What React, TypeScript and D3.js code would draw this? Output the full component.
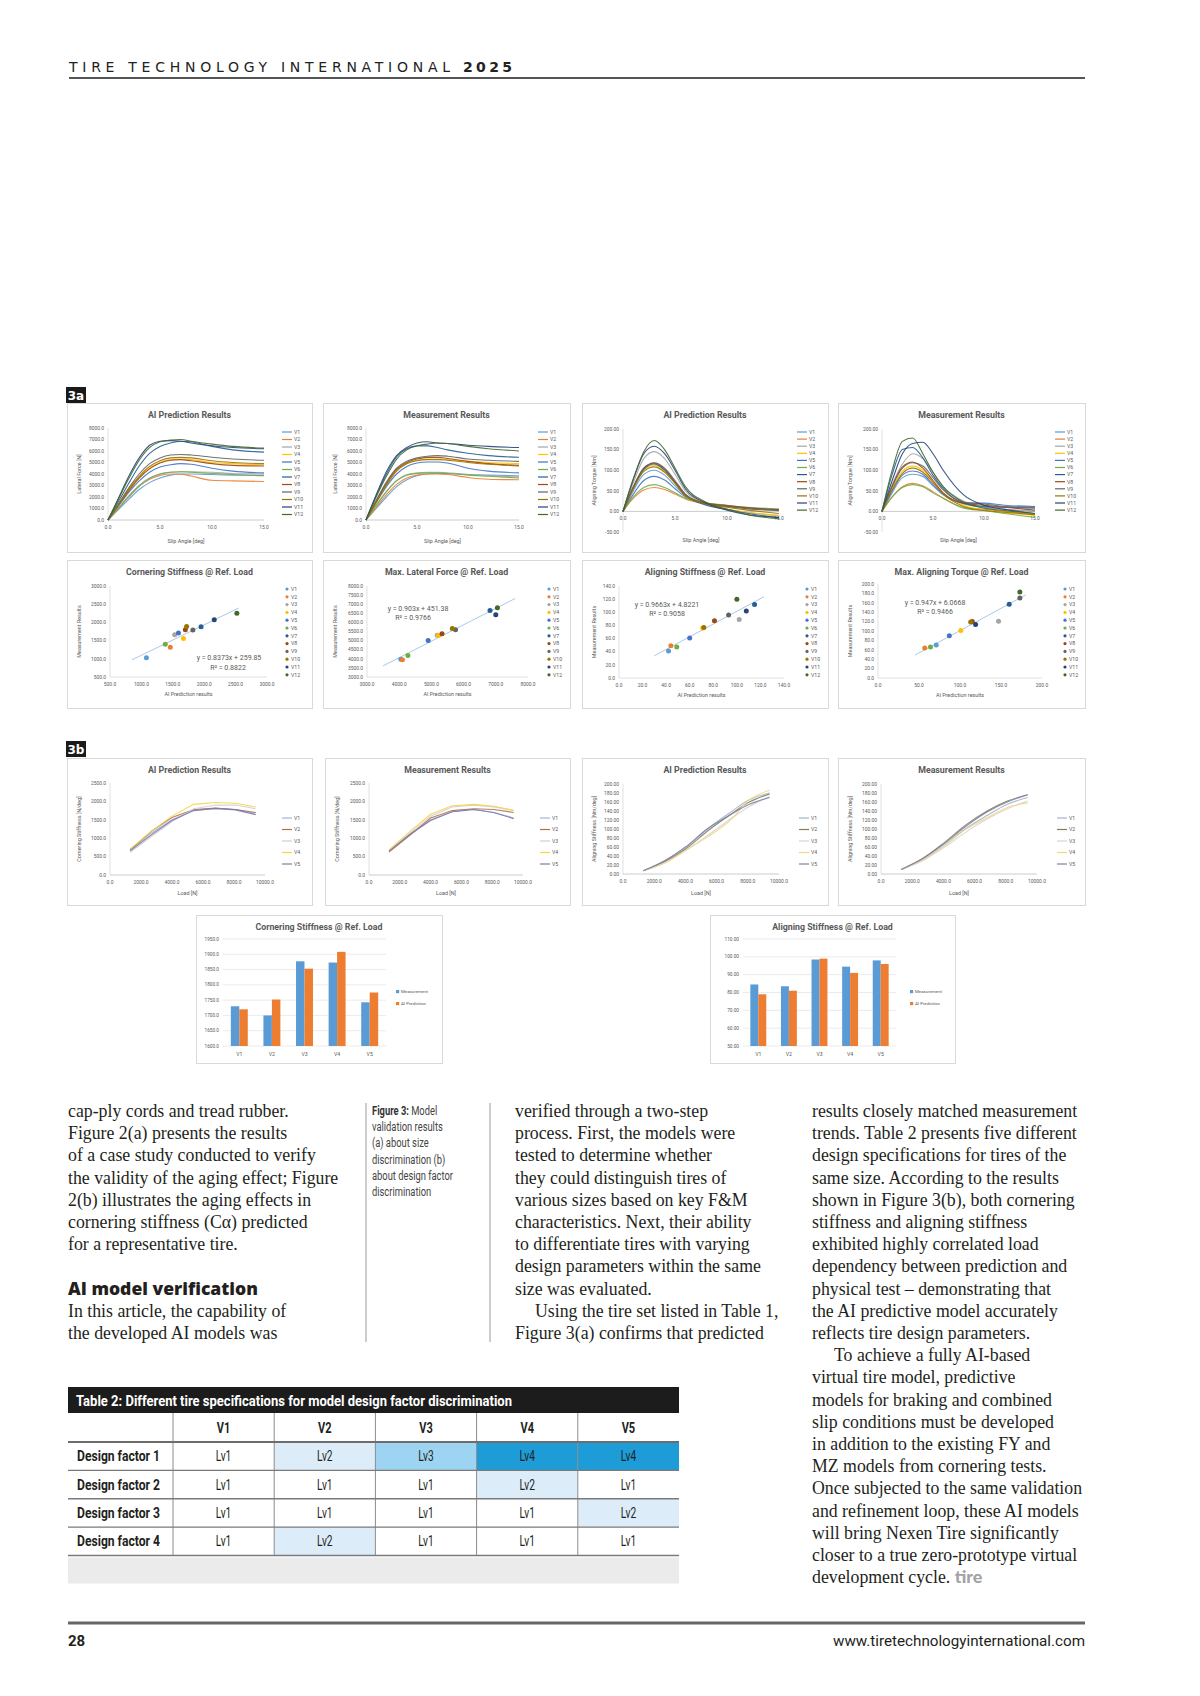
import React from "react";
import * as d3 from "d3";

// ---------------- DATA ----------------
const names12 = ["V1", "V2", "V3", "V4", "V5", "V6", "V7", "V8", "V9", "V10", "V11", "V12"];
const names5 = ["V1", "V2", "V3", "V4", "V5"];
const excel12 = ["#5B9BD5", "#ED7D31", "#A5A5A5", "#FFC000", "#4472C4", "#70AD47", "#255E91", "#9E480E", "#636363", "#997300", "#264478", "#43682B"];
const load5ColorsA = ["#9fb4d6", "#b0704a", "#cfcfcf", "#f5d34a", "#7c78b0"];
const load5ColorsB = ["#a3b2c9", "#7d7f5d", "#d4d4d4", "#f2d680", "#7f7faa"];

// Fig 3a – lateral force vs slip angle
const slipFy = [0, 1, 2, 3, 4, 5, 6, 7, 8, 10, 12, 15];
const fyAI = [
  [0, 900, 1800, 2650, 3250, 3650, 3900, 4000, 4000, 3950, 3900, 3880],
  [0, 1000, 2000, 2950, 3550, 3880, 4000, 3980, 3820, 3450, 3400, 3350],
  [0, 1000, 2000, 2900, 3600, 4000, 4150, 4200, 4200, 4150, 4050, 4000],
  [0, 1300, 2600, 3700, 4500, 5000, 5250, 5300, 5250, 5000, 4900, 4800],
  [0, 1200, 2400, 3400, 4150, 4600, 4800, 4900, 4850, 4500, 4250, 4100],
  [0, 1050, 2100, 3000, 3650, 4000, 4150, 4200, 4150, 4050, 3950, 3850],
  [0, 1600, 3200, 4700, 5800, 6400, 6700, 6850, 6800, 6400, 6100, 5900],
  [0, 1300, 2550, 3650, 4450, 4950, 5200, 5250, 5150, 4900, 4750, 4700],
  [0, 1400, 2800, 4000, 4900, 5400, 5650, 5700, 5650, 5450, 5300, 5200],
  [0, 1350, 2700, 3800, 4650, 5150, 5400, 5450, 5400, 5150, 5000, 4900],
  [0, 1900, 3800, 5400, 6500, 6850, 6900, 6850, 6700, 6450, 6300, 6200],
  [0, 1800, 3600, 5200, 6300, 6800, 6950, 7000, 6850, 6600, 6400, 6250],
];
const fyMeas = [
  [0, 1000, 2000, 2900, 3500, 3850, 4000, 4050, 4050, 3950, 3900, 3850],
  [0, 1100, 2200, 3100, 3650, 3900, 4000, 4000, 3950, 3700, 3550, 3500],
  [0, 1300, 2500, 3450, 3950, 4100, 4150, 4150, 4100, 3950, 3850, 3750],
  [0, 1600, 3100, 4300, 4950, 5200, 5300, 5300, 5250, 5100, 5000, 4900],
  [0, 1500, 2900, 4000, 4650, 4950, 5050, 5050, 4950, 4500, 4250, 4100],
  [0, 1250, 2450, 3400, 3900, 4050, 4100, 4100, 4050, 3900, 3800, 3650],
  [0, 2100, 4000, 5500, 6200, 6450, 6450, 6300, 6100, 5800, 5600, 5450],
  [0, 1650, 3200, 4400, 5000, 5300, 5450, 5450, 5350, 5100, 4900, 4750],
  [0, 1700, 3300, 4500, 5100, 5400, 5550, 5600, 5550, 5300, 5200, 5100],
  [0, 1550, 3050, 4250, 4900, 5150, 5250, 5250, 5200, 5000, 4850, 4700],
  [0, 2200, 4200, 5600, 6300, 6700, 6800, 6700, 6650, 6500, 6400, 6300],
  [0, 2000, 3800, 5300, 6100, 6450, 6600, 6700, 6650, 6400, 6200, 6000],
];

// Fig 3a – aligning torque vs slip angle
const slipMz = [0, 1, 2, 3, 4, 5, 6, 8, 10, 12, 15];
const mzAI = [
  [0, 50, 90, 100, 88, 62, 38, 20, 14, 8, 3],
  [0, 32, 52, 58, 53, 42, 30, 18, 12, 8, 4],
  [0, 70, 128, 145, 128, 90, 50, 18, 5, -3, -10],
  [0, 58, 100, 112, 98, 70, 40, 18, 6, -2, -10],
  [0, 42, 75, 85, 76, 55, 35, 18, 12, 8, 5],
  [0, 35, 58, 65, 58, 45, 32, 20, 15, 10, 6],
  [0, 58, 102, 115, 100, 70, 40, 15, 5, -5, -15],
  [0, 60, 105, 117, 103, 72, 40, 20, 14, 9, 4],
  [0, 60, 105, 118, 105, 75, 42, 18, 12, 6, 2],
  [0, 55, 97, 108, 95, 68, 38, 18, 10, 3, -5],
  [0, 78, 140, 158, 140, 100, 55, 20, 3, -8, -15],
  [0, 80, 145, 172, 150, 105, 60, 22, 5, -8, -18],
];
const mzMeas = [
  [0, 45, 82, 90, 85, 62, 40, 18, 10, 5, 0],
  [0, 35, 60, 68, 62, 48, 32, 10, 5, 0, -8],
  [0, 65, 115, 140, 128, 95, 60, 25, 10, 5, 0],
  [0, 55, 98, 110, 100, 72, 45, 15, 3, -3, -10],
  [0, 50, 88, 98, 90, 65, 42, 20, 20, 15, 12],
  [0, 35, 58, 65, 60, 45, 32, 8, 2, -5, -15],
  [0, 90, 150, 155, 130, 88, 55, 20, 12, 10, 8],
  [0, 62, 108, 120, 105, 75, 45, 20, 15, 10, 3],
  [0, 60, 105, 118, 110, 82, 52, 22, 18, 12, 10],
  [0, 52, 92, 105, 95, 70, 42, 12, 2, -2, -8],
  [0, 75, 140, 165, 168, 140, 100, 40, 15, 5, -5],
  [0, 100, 170, 178, 140, 95, 60, 22, 8, 2, -5],
];

// Fig 3a – scatter comparisons (V1..V12)
const csPred = [1080, 1460, 1530, 1670, 1590, 1380, 1950, 1700, 1820, 1720, 2160, 2520];
const csMeas = [1030, 1320, 1660, 1560, 1710, 1400, 1880, 1800, 1790, 1890, 2070, 2250];
const csFit = [0.8373, 259.85];
const csFitRange = [850, 2550];
const mfPred = [4050, 4100, 5180, 5220, 4900, 4270, 6820, 5330, 5750, 5650, 7000, 7050];
const mfMeas = [3980, 3950, 5300, 5280, 5000, 4180, 6650, 5380, 5590, 5660, 6420, 6800];
const mfFit = [0.903, 451.38];
const mfFitRange = [3500, 7600];
const asPred = [42, 44, 102, 71, 60, 49, 115, 81, 93, 72, 108, 100];
const asMeas = [41, 49, 89, 76, 61, 47, 112, 87, 96, 77, 102, 120];
const asFit = [0.9663, 4.8221];
const asFitRange = [30, 123];
const mtPred = [71, 57, 147, 101, 87, 64, 160, 115, 173, 113, 119, 173];
const mtMeas = [70, 64, 121, 101, 90, 66, 157, 120, 170, 119, 114, 183];
const mtFit = [0.947, 6.0668];
const mtFitRange = [45, 180];

// Fig 3b – load sweeps (V1..V5)
const loadPts = [1300, 2700, 4000, 5400, 6800, 8100, 9400];
const csLoadAI = [
  [700, 1150, 1500, 1760, 1800, 1780, 1680],
  [680, 1200, 1560, 1780, 1820, 1780, 1700],
  [620, 1050, 1450, 1800, 1900, 1900, 1800],
  [700, 1200, 1600, 1920, 1970, 1950, 1850],
  [660, 1100, 1480, 1750, 1810, 1770, 1640],
];
const csLoadMeas = [
  [640, 1100, 1500, 1720, 1780, 1700, 1550],
  [620, 1100, 1550, 1750, 1800, 1780, 1700],
  [660, 1150, 1600, 1850, 1900, 1850, 1750],
  [680, 1200, 1650, 1880, 1920, 1870, 1760],
  [650, 1120, 1480, 1720, 1780, 1700, 1530],
];
const asLoadAI = [
  [7, 30, 58, 100, 135, 165, 180],
  [7, 28, 55, 95, 130, 160, 178],
  [7, 25, 52, 85, 120, 150, 172],
  [7, 25, 52, 82, 117, 165, 186],
  [7, 30, 60, 100, 130, 155, 170],
];
const asLoadMeas = [
  [10, 32, 62, 100, 130, 155, 170],
  [10, 35, 68, 108, 140, 162, 176],
  [10, 30, 58, 92, 122, 145, 162],
  [10, 32, 62, 98, 125, 148, 158],
  [10, 35, 66, 105, 138, 160, 176],
];

// Fig 3b – bars
const barSeries = ["Measurement", "AI Prediction"];
const barColors = ["#5B9BD5", "#ED7D31"];
const csBarMeas = [1730, 1700, 1877, 1873, 1743];
const csBarAI = [1720, 1752, 1853, 1908, 1775];
const asBarMeas = [84.5, 83.5, 98.5, 94.5, 98];
const asBarAI = [79, 81, 99, 91, 96];

// Table 2
const tableCols = ["V1", "V2", "V3", "V4", "V5"];
const tableRows = ["Design factor 1", "Design factor 2", "Design factor 3", "Design factor 4"];
const tableLevels = [
  ["Lv1", "Lv2", "Lv3", "Lv4", "Lv4"],
  ["Lv1", "Lv1", "Lv1", "Lv2", "Lv1"],
  ["Lv1", "Lv1", "Lv1", "Lv1", "Lv2"],
  ["Lv1", "Lv2", "Lv1", "Lv1", "Lv1"],
];
const tableShade = [
  [0, 1, 2, 3, 3],
  [0, 0, 0, 1, 0],
  [0, 0, 0, 0, 1],
  [0, 1, 0, 0, 0],
];
const shadeColors = ["#ffffff", "#dcedf9", "#9dd4f2", "#1e9cd8"];

// Body text
const col1Lines = [
  "cap-ply cords and tread rubber.",
  "Figure 2(a) presents the results",
  "of a case study conducted to verify",
  "the validity of the aging effect; Figure",
  "2(b) illustrates the aging effects in",
  "cornering stiffness (C\u03b1) predicted",
  "for a representative tire.",
];
const col1Heading = "AI model verification";
const col1After = ["In this article, the capability of", "the developed AI models was"];
const captionLines = ["validation results", "(a) about size", "discrimination (b)", "about design factor", "discrimination"];
const col3Lines = [
  "verified through a two-step",
  "process. First, the models were",
  "tested to determine whether",
  "they could distinguish tires of",
  "various sizes based on key F&M",
  "characteristics. Next, their ability",
  "to differentiate tires with varying",
  "design parameters within the same",
  "size was evaluated.",
  "Using the tire set listed in Table 1,",
  "Figure 3(a) confirms that predicted",
];
const col4Lines = [
  "results closely matched measurement",
  "trends. Table 2 presents five different",
  "design specifications for tires of the",
  "same size. According to the results",
  "shown in Figure 3(b), both cornering",
  "stiffness and aligning stiffness",
  "exhibited highly correlated load",
  "dependency between prediction and",
  "physical test \u2013 demonstrating that",
  "the AI predictive model accurately",
  "reflects tire design parameters.",
  "To achieve a fully AI-based",
  "virtual tire model, predictive",
  "models for braking and combined",
  "slip conditions must be developed",
  "in addition to the existing FY and",
  "MZ models from cornering tests.",
  "Once subjected to the same validation",
  "and refinement loop, these AI models",
  "will bring Nexen Tire significantly",
  "closer to a true zero-prototype virtual",
  "development cycle. ",
];

// ---------------- STYLE ----------------
const CF = "Roboto, 'Liberation Sans', sans-serif";
const CT = "#595959";
const SERIF = "'Liberation Serif', 'DejaVu Serif', serif";
const INK = "#231f20";

function ChartFrame({ bx, by, bw, bh, title }: any) {
  return (
    <g>
      <rect x={bx + 0.5} y={by + 0.5} width={bw} height={bh} fill="#fff" stroke="#d9d9d9" strokeWidth={1} />
      <text x={bx + bw / 2} y={by + 15} textAnchor="middle" fontFamily={CF} fontWeight={700} fontSize={8.8} fill={CT}>{title}</text>
    </g>
  );
}

function AxisTitles({ bx, by, L, R, T, B, xTitle, yTitle, xTitleY }: any) {
  return (
    <g fontFamily={CF} fontSize={5.4} fill={CT}>
      <text x={bx + (L + R) / 2} y={xTitleY} textAnchor="middle">{xTitle}</text>
      <text transform={`translate(${bx + 14},${by + (T + B) / 2}) rotate(-90)`} textAnchor="middle">{yTitle}</text>
    </g>
  );
}

function LineChart(p: any) {
  const { bx, by, bw, bh, L, R, T, B } = p;
  const x = d3.scaleLinear().domain(p.xDomain).range([bx + L, bx + R]);
  const y = d3.scaleLinear().domain(p.yDomain).range([by + B, by + T]);
  const gen = d3
    .line<number>()
    .x((_, i) => x(p.xs[i]))
    .y((d) => y(d))
    .curve(p.smooth ? d3.curveMonotoneX : d3.curveLinear);
  const y0 = y(Math.max(0, p.yDomain[0]));
  const yTicks = d3.range(p.yDomain[0], p.yDomain[1] + p.yStep / 2, p.yStep);
  const xTicks = d3.range(p.xDomain[0], p.xDomain[1] + p.xStep / 2, p.xStep);
  return (
    <g>
      <ChartFrame bx={bx} by={by} bw={bw} bh={bh} title={p.title} />
      <line x1={bx + L} x2={bx + L} y1={by + T} y2={by + B} stroke="#d9d9d9" strokeWidth={0.8} />
      <line x1={bx + L} x2={bx + R} y1={y0} y2={y0} stroke="#bfbfbf" strokeWidth={0.8} />
      <g fontFamily={CF} fontSize={4.9} fill={CT}>
        {yTicks.map((t: number) => (
          <text key={"y" + t} x={bx + L - 4} y={y(t) + 1.7} textAnchor="end">{t.toFixed(p.yDec)}</text>
        ))}
        {xTicks.map((t: number) => (
          <text key={"x" + t} x={x(t)} y={y0 + 8.5} textAnchor="middle">{t.toFixed(p.xDec)}</text>
        ))}
      </g>
      {p.series.map((s: number[], i: number) => (
        <path key={i} d={gen(s) || ""} fill="none" stroke={p.colors[i]} strokeWidth={1.1} strokeOpacity={0.9} />
      ))}
      <g fontFamily={CF} fontSize={5.2} fill={CT}>
        {p.names.map((n: string, i: number) => (
          <g key={n}>
            <line x1={bx + p.legX} x2={bx + p.legX + 10} y1={by + p.legY0 + i * p.legDy} y2={by + p.legY0 + i * p.legDy} stroke={p.colors[i]} strokeWidth={1.2} />
            <text x={bx + p.legX + 12} y={by + p.legY0 + i * p.legDy + 1.8}>{n}</text>
          </g>
        ))}
      </g>
      <AxisTitles bx={bx} by={by} L={L} R={R} T={T} B={B} xTitle={p.xTitle} yTitle={p.yTitle} xTitleY={p.xTitleY} />
    </g>
  );
}

function ScatterChart(p: any) {
  const { bx, by, bw, bh, L, R, T, B } = p;
  const x = d3.scaleLinear().domain(p.xDomain).range([bx + L, bx + R]);
  const y = d3.scaleLinear().domain(p.yDomain).range([by + B, by + T]);
  const yTicks = d3.range(p.yDomain[0], p.yDomain[1] + p.yStep / 2, p.yStep);
  const xTicks = d3.range(p.xDomain[0], p.xDomain[1] + p.xStep / 2, p.xStep);
  const [a, b] = p.fit;
  const trend = d3.line<number>().x((d) => x(d)).y((d) => y(a * d + b));
  return (
    <g>
      <ChartFrame bx={bx} by={by} bw={bw} bh={bh} title={p.title} />
      <line x1={bx + L} x2={bx + L} y1={by + T} y2={by + B} stroke="#d9d9d9" strokeWidth={0.8} />
      <line x1={bx + L} x2={bx + R} y1={by + B} y2={by + B} stroke="#d9d9d9" strokeWidth={0.8} />
      <g fontFamily={CF} fontSize={4.9} fill={CT}>
        {yTicks.map((t: number) => (
          <text key={"y" + t} x={bx + L - 4} y={y(t) + 1.7} textAnchor="end">{t.toFixed(1)}</text>
        ))}
        {xTicks.map((t: number) => (
          <text key={"x" + t} x={x(t)} y={by + B + 9} textAnchor="middle">{t.toFixed(1)}</text>
        ))}
      </g>
      <path d={trend(p.fitRange) || ""} stroke="#9dc3e6" strokeWidth={0.9} fill="none" />
      {p.px.map((v: number, i: number) => (
        <circle key={i} cx={x(v)} cy={y(p.py[i])} r={2.5} fill={excel12[i]} />
      ))}
      <g fontFamily={CF} fontSize={7} fill={CT} textAnchor="middle">
        <text x={bx + p.eqX} y={by + p.eqY}>{`y = ${a}x + ${b}`}</text>
        <text x={bx + p.r2X} y={by + p.eqY + 9.5}>{`R\u00b2 = ${p.r2}`}</text>
      </g>
      <g fontFamily={CF} fontSize={5.2} fill={CT}>
        {names12.map((n, i) => (
          <g key={n}>
            <circle cx={bx + p.legX} cy={by + 29 + i * 7.8} r={1.6} fill={excel12[i]} />
            <text x={bx + p.legX + 4} y={by + 29 + i * 7.8 + 1.8}>{n}</text>
          </g>
        ))}
      </g>
      <AxisTitles bx={bx} by={by} L={L} R={R} T={T} B={B} xTitle="AI Prediction results" yTitle="Measurement Results" xTitleY={by + B + 19} />
    </g>
  );
}

function BarChart(p: any) {
  const { bx, by, bw, bh, L, R, T, B } = p;
  const x = d3.scaleBand<string>().domain(names5).range([bx + L, bx + R]).paddingInner(0.48).paddingOuter(0.24);
  const xi = d3.scaleBand<string>().domain(barSeries).range([0, x.bandwidth()]);
  const y = d3.scaleLinear().domain(p.yDomain).range([by + B, by + T]);
  const yTicks = d3.range(p.yDomain[0], p.yDomain[1] + p.yStep / 2, p.yStep);
  const vals = [p.meas, p.ai];
  return (
    <g>
      <ChartFrame bx={bx} by={by} bw={bw} bh={bh} title={p.title} />
      {yTicks.map((t: number) => (
        <line key={"g" + t} x1={bx + L} x2={bx + R} y1={y(t)} y2={y(t)} stroke="#e3e3e3" strokeWidth={0.7} />
      ))}
      <g fontFamily={CF} fontSize={4.7} fill={CT}>
        {yTicks.map((t: number) => (
          <text key={"y" + t} x={bx + L - 4} y={y(t) + 1.6} textAnchor="end">{t.toFixed(p.yDec)}</text>
        ))}
        {names5.map((n) => (
          <text key={n} x={(x(n) || 0) + x.bandwidth() / 2} y={by + B + 10} textAnchor="middle" fontSize={5.2}>{n}</text>
        ))}
      </g>
      {names5.map((n, ci) =>
        barSeries.map((s, si) => (
          <rect key={n + s} x={(x(n) || 0) + (xi(s) || 0)} y={y(vals[si][ci])} width={xi.bandwidth()} height={by + B - y(vals[si][ci])} fill={barColors[si]} />
        ))
      )}
      <g fontFamily={CF} fontSize={4.4} fill={CT}>
        {barSeries.map((s, si) => (
          <g key={s}>
            <rect x={bx + p.legX} y={by + 75 + si * 12} width={3.2} height={3.2} fill={barColors[si]} />
            <text x={bx + p.legX + 5} y={by + 78 + si * 12}>{s}</text>
          </g>
        ))}
      </g>
    </g>
  );
}

function Tag({ x, y, label }: any) {
  return (
    <g>
      <rect x={x} y={y} width={20} height={16} fill="#1a1a1a" />
      <text x={x + 10} y={y + 12.5} textAnchor="middle" fontFamily="'DejaVu Sans', sans-serif" fontWeight={700} fontSize={12} fill="#fff">{label}</text>
    </g>
  );
}

function Table() {
  const left = 68, right = 679, labelEdge = 173;
  const cx = d3.scaleBand<string>().domain(tableCols).range([labelEdge, right]);
  const ry = d3.scaleBand<string>().domain(tableRows).range([1442, 1555.5]);
  return (
    <g>
      <rect x={left} y={1387} width={right - left} height={26} fill="#1c1c1c" />
      <text x={76} y={1405.5} fontFamily={CF} fontWeight={700} fontSize={14.5} fill="#fff" textLength={436} lengthAdjust="spacingAndGlyphs">
        Table 2: Different tire specifications for model design factor discrimination
      </text>
      {tableRows.map((r, ri) =>
        tableCols.map((c, ci) => (
          <rect key={r + c} x={cx(c) || 0} y={ry(r) || 0} width={cx.bandwidth()} height={ry.bandwidth()} fill={shadeColors[tableShade[ri][ci]]} />
        ))
      )}
      <rect x={left} y={1557.5} width={right - left} height={26} fill="#ebebeb" />
      {tableCols.map((c) => (
        <text key={c} x={(cx(c) || 0) + cx.bandwidth() / 2} y={1433} textAnchor="middle" fontFamily={CF} fontWeight={700} fontSize={14.5} fill={INK} textLength={13.5} lengthAdjust="spacingAndGlyphs">{c}</text>
      ))}
      {tableRows.map((r, ri) => (
        <g key={r}>
          <text x={77} y={(ry(r) || 0) + ry.bandwidth() / 2 + 5} fontFamily={CF} fontWeight={700} fontSize={14.5} fill={INK} textLength={83} lengthAdjust="spacingAndGlyphs">{r}</text>
          {tableCols.map((c, ci) => (
            <text key={c} x={(cx(c) || 0) + cx.bandwidth() / 2} y={(ry(r) || 0) + ry.bandwidth() / 2 + 5} textAnchor="middle" fontFamily={CF} fontSize={14.5} fill={INK} textLength={15.5} lengthAdjust="spacingAndGlyphs">{tableLevels[ri][ci]}</text>
          ))}
        </g>
      ))}
      {[labelEdge, ...tableCols.slice(1).map((c) => cx(c) || 0)].map((v, i) => (
        <line key={"v" + i} x1={v} x2={v} y1={1413} y2={1555.5} stroke="#8c8c8c" strokeWidth={1} />
      ))}
      <line x1={left} x2={right} y1={1442} y2={1442} stroke="#6d6d6d" strokeWidth={2} />
      {tableRows.map((r) => (
        <line key={"h" + r} x1={left} x2={right} y1={(ry(r) || 0) + ry.bandwidth()} y2={(ry(r) || 0) + ry.bandwidth()} stroke="#7a7a7a" strokeWidth={1.4} />
      ))}
    </g>
  );
}

function TextColumns() {
  const base = 1117;
  const lh = 22.2;
  return (
    <g fontFamily={SERIF} fontSize={17.8} fill={INK}>
      {col1Lines.map((l, i) => (
        <text key={"a" + i} x={68} y={base + i * lh}>{l}</text>
      ))}
      <text x={68} y={base + 8 * lh} fontFamily="'Open Sans', Lato, sans-serif" fontWeight={800} fontSize={18} textLength={190} lengthAdjust="spacingAndGlyphs">{col1Heading}</text>
      {col1After.map((l, i) => (
        <text key={"b" + i} x={68} y={base + (9 + i) * lh}>{l}</text>
      ))}
      <line x1={366} x2={366} y1={1103} y2={1342} stroke="#9a9a9a" strokeWidth={1} />
      <line x1={490} x2={490} y1={1103} y2={1342} stroke="#9a9a9a" strokeWidth={1} />
      <g fontFamily={CF} fontSize={13} fill="#444">
        <text transform={`translate(372,${1115}) scale(0.72,1)`}>
          <tspan fontWeight={700} fill="#333">Figure 3:</tspan> Model
        </text>
        {captionLines.map((l, i) => (
          <text key={"c" + i} transform={`translate(372,${1115 + (i + 1) * 16.2}) scale(0.72,1)`}>{l}</text>
        ))}
      </g>
      {col3Lines.map((l, i) => (
        <text key={"d" + i} x={i === 9 ? 535 : 515} y={base + i * lh}>{l}</text>
      ))}
      {col4Lines.map((l, i) => (
        <text key={"e" + i} x={i === 11 ? 834 : 812} y={base + i * lh}>
          {l}
          {i === col4Lines.length - 1 ? (
            <tspan fontFamily="Lato, sans-serif" fontWeight={900} fill="#a3a3a3">tire</tspan>
          ) : null}
        </text>
      ))}
    </g>
  );
}

export default function App() {
  const fyCommon = { xDomain: [0, 15], xStep: 5, xDec: 1, yDomain: [0, 8000], yStep: 1000, yDec: 1, xs: slipFy, colors: excel12, names: names12, smooth: true, xTitle: "Slip Angle [deg]", yTitle: "Lateral Force [N]", T: 25, B: 117, legY0: 29, legDy: 7.5 };
  const mzCommon = { xDomain: [0, 15], xStep: 5, xDec: 1, yDomain: [-50, 200], yStep: 50, yDec: 2, xs: slipMz, colors: excel12, names: names12, smooth: true, xTitle: "Slip Angle [deg]", yTitle: "Aligning Torque [Nm]", T: 26, B: 129, legY0: 29, legDy: 7.1 };
  const csCommon = { xDomain: [0, 10000], xStep: 2000, xDec: 1, yDomain: [0, 2500], yStep: 500, yDec: 1, xs: loadPts, colors: load5ColorsA, names: names5, smooth: false, xTitle: "Load [N]", yTitle: "Cornering Stiffness [N/deg]", T: 25, B: 117, legY0: 60, legDy: 11.5 };
  const asCommon = { xDomain: [0, 10000], xStep: 2000, xDec: 1, yDomain: [0, 200], yStep: 20, yDec: 2, xs: loadPts, colors: load5ColorsB, names: names5, smooth: true, xTitle: "Load [N]", yTitle: "Aligning Stiffness [Nm/deg]", T: 26, B: 116, legY0: 60, legDy: 11.5 };
  return (
    <svg width={1200} height={1696} viewBox="0 0 1200 1696" style={{ position: "absolute", left: 0, top: 0, background: "#fff" }}>
      <rect x={0} y={0} width={1200} height={1696} fill="#fff" />
      {/* Header */}
      <text x={69} y={71.5} fontFamily="'DejaVu Sans', sans-serif" fontSize={14} fill="#222" textLength={381} lengthAdjust="spacing">TIRE TECHNOLOGY INTERNATIONAL</text>
      <text x={463} y={71.5} fontFamily="'DejaVu Sans', sans-serif" fontWeight={700} fontSize={14} fill="#222" textLength={49} lengthAdjust="spacing">2025</text>
      <line x1={69} x2={1085} y1={78} y2={78} stroke="#555" strokeWidth={2} />

      <Tag x={66} y={387} label="3a" />
      <LineChart {...fyCommon} bx={67} by={403} bw={245} bh={149} L={41} R={197} title="AI Prediction Results" series={fyAI} legX={215} xTitleY={543} />
      <LineChart {...fyCommon} bx={323} by={403} bw={247} bh={149} L={43} R={196} title="Measurement Results" series={fyMeas} legX={215} xTitleY={543} />
      <LineChart {...mzCommon} bx={582} by={403} bw={246} bh={149} L={41} R={197} title="AI Prediction Results" series={mzAI} legX={215} xTitleY={542} />
      <LineChart {...mzCommon} bx={838} by={403} bw={247} bh={149} L={44} R={197} title="Measurement Results" series={mzMeas} legX={217} xTitleY={542} />

      <ScatterChart bx={67} by={560} bw={245} bh={148} L={43} R={200} T={26} B={117} title="Cornering Stiffness @ Ref. Load" xDomain={[500, 3000]} xStep={500} yDomain={[500, 3000]} yStep={500} px={csPred} py={csMeas} fit={csFit} fitRange={csFitRange} r2={0.8822} eqX={162} eqY={100} r2X={161} legX={220} />
      <ScatterChart bx={323} by={560} bw={247} bh={148} L={44} R={205} T={26} B={117} title="Max. Lateral Force @ Ref. Load" xDomain={[3000, 8000]} xStep={1000} yDomain={[3000, 8000]} yStep={500} px={mfPred} py={mfMeas} fit={mfFit} fitRange={mfFitRange} r2={0.9766} eqX={95} eqY={50.5} r2X={90} legX={226} />
      <ScatterChart bx={582} by={560} bw={246} bh={148} L={37} R={202} T={26} B={118} title="Aligning Stiffness @ Ref. Load" xDomain={[0, 140]} xStep={20} yDomain={[0, 140]} yStep={20} px={asPred} py={asMeas} fit={asFit} fitRange={asFitRange} r2={0.9058} eqX={85} eqY={46.5} r2X={85} legX={225} />
      <ScatterChart bx={838} by={560} bw={247} bh={148} L={40} R={204} T={24} B={118} title="Max. Aligning Torque @ Ref. Load" xDomain={[0, 200]} xStep={50} yDomain={[0, 200]} yStep={20} px={mtPred} py={mtMeas} fit={mtFit} fitRange={mtFitRange} r2={0.9466} eqX={97} eqY={44.5} r2X={97} legX={227} />

      <Tag x={66} y={741} label="3b" />
      <LineChart {...csCommon} bx={67} by={758} bw={245} bh={147} L={43} R={198} title="AI Prediction Results" series={csLoadAI} legX={215} xTitleY={895} />
      <LineChart {...csCommon} bx={325} by={758} bw={245} bh={147} L={44} R={198} title="Measurement Results" series={csLoadMeas} legX={215} xTitleY={895} />
      <LineChart {...asCommon} bx={582} by={758} bw={246} bh={147} L={41} R={197} title="AI Prediction Results" series={asLoadAI} legX={217} xTitleY={895} />
      <LineChart {...asCommon} bx={838} by={758} bw={247} bh={147} L={43} R={199} title="Measurement Results" series={asLoadMeas} legX={219} xTitleY={895} />

      <BarChart bx={196} by={915} bw={246} bh={148} L={27} R={190} T={24} B={131} title="Cornering Stiffness @ Ref. Load" yDomain={[1600, 1950]} yStep={50} yDec={1} meas={csBarMeas} ai={csBarAI} legX={200} />
      <BarChart bx={710} by={915} bw={245} bh={148} L={33} R={186} T={24} B={131} title="Aligning Stiffness @ Ref. Load" yDomain={[50, 110]} yStep={10} yDec={2} meas={asBarMeas} ai={asBarAI} legX={200} />

      <TextColumns />
      <Table />

      {/* Footer */}
      <line x1={68} x2={1085} y1={1623} y2={1623} stroke="#666" strokeWidth={3} />
      <text x={68} y={1646} fontFamily={CF} fontWeight={700} fontSize={15} fill={INK}>28</text>
      <text x={1085} y={1646} textAnchor="end" fontFamily={CF} fontSize={15} fill={INK} textLength={252} lengthAdjust="spacingAndGlyphs">www.tiretechnologyinternational.com</text>
    </svg>
  );
}
